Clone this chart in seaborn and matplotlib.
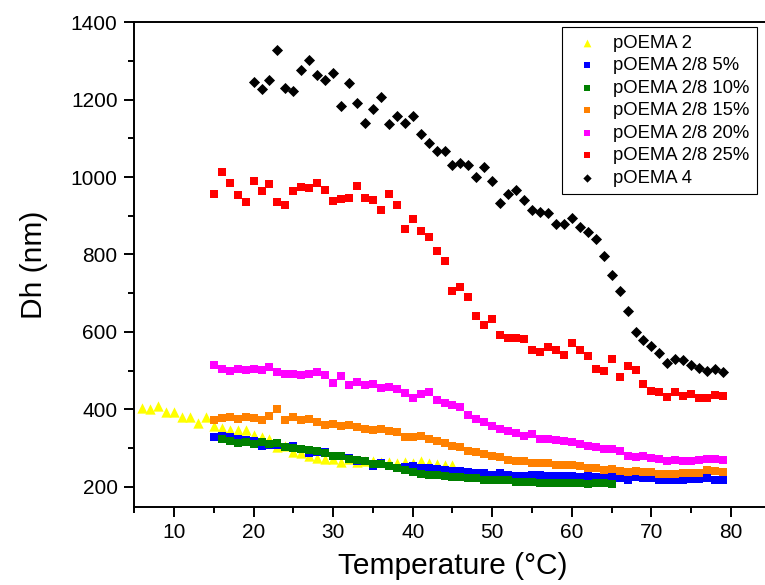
import matplotlib.pyplot as plt
import seaborn as sns
from matplotlib.ticker import MultipleLocator

sns.set_style('ticks')
plt.rcParams['font.family'] = ['Liberation Sans', 'DejaVu Sans']
plt.rcParams['text.color'] = 'black'
plt.rcParams['axes.labelcolor'] = 'black'

# data (temperature in C, Dh in nm)
temp_p2 = list(range(6, 46))
dh_p2 = [403, 401, 409, 394, 394, 380, 381, 365, 380, 357, 351, 347, 347, 346, 333, 329, 323, 303, 305, 290,
         287, 280, 275, 271, 272, 264, 271, 264, 266, 266, 263, 263, 262, 263, 260, 265, 260, 258, 257, 257]

temp_5 = list(range(15, 80))
dh_5 = [328, 330, 328, 324, 320, 318, 305, 308, 307, 303, 305, 297, 287, 289, 290, 279, 279, 273, 267, 267,
        254, 260, 254, 249, 250, 252, 248, 248, 245, 244, 240, 240, 238, 235, 235, 229, 234, 230, 228, 228,
        229, 229, 228, 228, 227, 228, 226, 228, 226, 225, 226, 223, 218, 224, 222, 221, 218, 217, 218, 217,
        219, 220, 221, 217, 216]

temp_10 = list(range(16, 66))
dh_10 = [323, 318, 313, 316, 311, 314, 310, 313, 303, 299, 297, 294, 291, 288, 279, 279, 272, 269, 265, 258,
         259, 252, 248, 244, 238, 233, 230, 230, 227, 224, 226, 222, 221, 217, 217, 217, 216, 213, 213, 212,
         210, 210, 210, 209, 209, 209, 206, 209, 209, 206]

temp_15 = list(range(15, 80))
dh_15 = [372, 378, 379, 374, 381, 377, 373, 382, 400, 371, 380, 372, 375, 368, 358, 362, 356, 359, 354, 350,
         346, 348, 344, 341, 329, 329, 330, 323, 318, 312, 304, 302, 292, 289, 284, 279, 276, 269, 267, 265,
         261, 260, 262, 256, 256, 256, 254, 249, 249, 242, 246, 241, 239, 241, 239, 237, 233, 233, 233, 236,
         235, 236, 242, 241, 239]

temp_20 = list(range(15, 80))
dh_20 = [514, 504, 498, 504, 501, 504, 501, 510, 495, 492, 491, 489, 491, 496, 488, 469, 486, 463, 470, 462,
         465, 456, 457, 453, 441, 429, 440, 445, 425, 416, 411, 407, 385, 374, 367, 357, 348, 344, 338, 330,
         337, 324, 324, 320, 319, 314, 310, 305, 303, 298, 298, 292, 280, 277, 278, 273, 272, 267, 270, 267,
         267, 268, 271, 271, 269]

temp_25 = list(range(15, 80))
dh_25 = [957, 1013, 985, 954, 935, 991, 963, 982, 936, 927, 963, 974, 973, 984, 966, 938, 943, 947, 976, 946,
         940, 915, 955, 927, 866, 891, 860, 846, 809, 784, 705, 716, 691, 641, 617, 632, 592, 583, 584, 581,
         554, 548, 560, 554, 541, 570, 552, 538, 504, 499, 529, 482, 512, 502, 465, 447, 445, 432, 445, 435,
         440, 429, 429, 436, 434]

temp_p4 = list(range(20, 80))
dh_p4 = [1245, 1228, 1250, 1329, 1229, 1222, 1277, 1303, 1263, 1252, 1268, 1183, 1242, 1191, 1139, 1175,
         1207, 1136, 1157, 1140, 1159, 1110, 1089, 1067, 1067, 1030, 1037, 1032, 1001, 1026, 990, 934, 957,
         966, 940, 915, 910, 907, 878, 878, 895, 872, 859, 840, 797, 747, 705, 655, 599, 580, 563, 545, 520,
         531, 527, 513, 506, 500, 503, 497]

series = [
    ('pOEMA 2', temp_p2, dh_p2, '#FFFF00', '^', 55),
    ('pOEMA 2/8 5%', temp_5, dh_5, '#0000FF', 's', 40),
    ('pOEMA 2/8 10%', temp_10, dh_10, '#008000', 's', 40),
    ('pOEMA 2/8 15%', temp_15, dh_15, '#FF8000', 's', 40),
    ('pOEMA 2/8 20%', temp_20, dh_20, '#FF00FF', 's', 40),
    ('pOEMA 2/8 25%', temp_25, dh_25, '#FF0000', 's', 40),
    ('pOEMA 4', temp_p4, dh_p4, 'black', 'D', 32),
]

fig = plt.figure(figsize=(7.65, 5.85), dpi=100)
ax = fig.add_axes([0.1754, 0.1338, 0.8322, 0.8281])

for label, t, dh, color, marker, size in series:
    sns.scatterplot(x=t, y=dh, color=color, marker=marker, s=size, linewidth=0, label=label, ax=ax)

ax.set_xlim(5, 85)
ax.set_ylim(148, 1400)
ax.xaxis.set_major_locator(MultipleLocator(10))
ax.xaxis.set_minor_locator(MultipleLocator(5))
ax.yaxis.set_major_locator(MultipleLocator(200))
ax.yaxis.set_minor_locator(MultipleLocator(100))
ax.tick_params(which='major', length=7, width=1.4, labelsize=15, pad=5, colors='black')
ax.tick_params(which='minor', length=4, width=1.4, colors='black')
for sp in ax.spines.values():
    sp.set_linewidth(1.4)
    sp.set_color('black')

ax.set_xlabel('Temperature (°C)', fontsize=21.5, labelpad=7)
ax.set_ylabel('Dh (nm)', fontsize=21.5, labelpad=16)

leg = ax.legend(loc='upper right', bbox_to_anchor=(0.978, 0.990), fontsize=13.3, frameon=True,
                fancybox=False, edgecolor='black', framealpha=1, borderpad=0.4, handlelength=1.9,
                handletextpad=0.45, labelspacing=0.3, borderaxespad=0, markerscale=0.75)
leg.get_frame().set_linewidth(0.8)

fig.savefig('out.png', dpi=100)
